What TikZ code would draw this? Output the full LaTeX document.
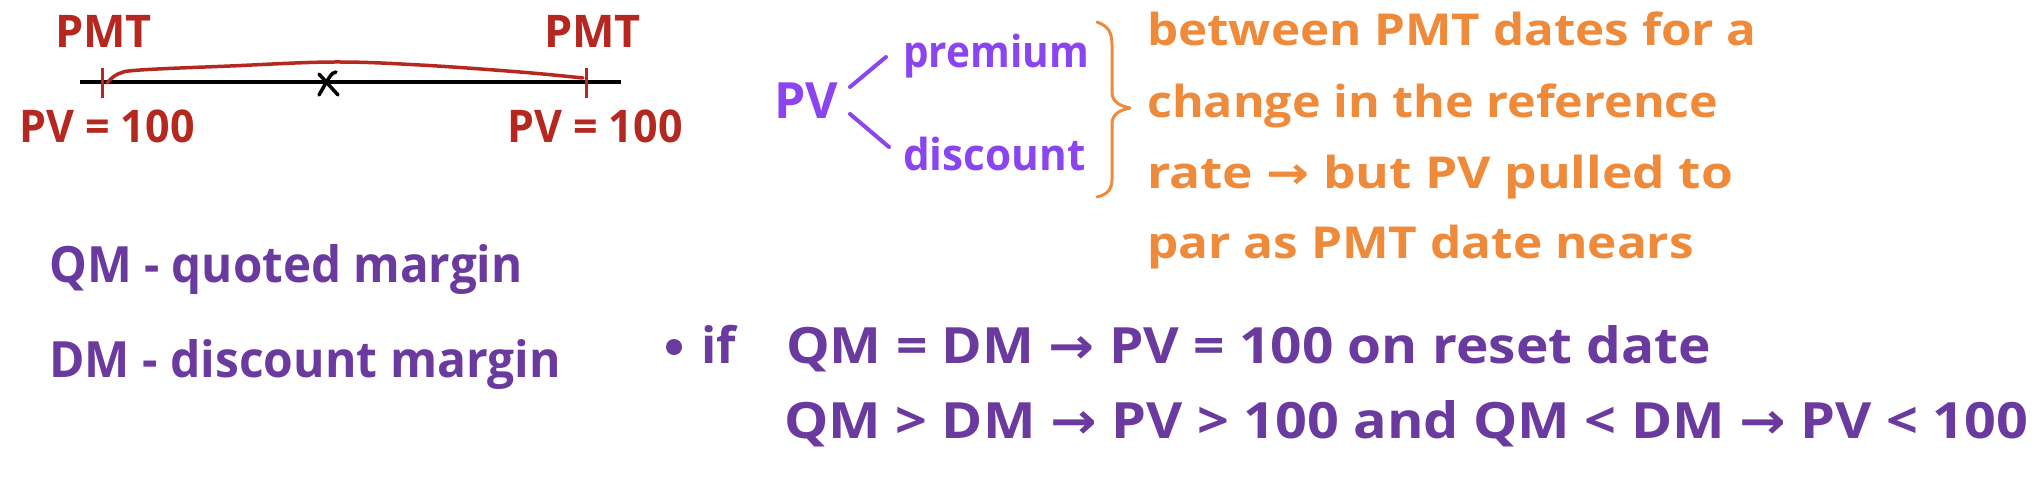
\documentclass[tikz,border=0pt]{standalone}
\usepackage{fontspec}
\usepackage{graphicx}
\newfontfamily\hand{Open Sans}
\newfontfamily\symf{DejaVu Sans}
\newcommand{\myarr}{{\symf\bfseries →}}
\newcommand{\sx}[2]{\scalebox{#1}[1]{#2}}
\definecolor{pmtred}{HTML}{B5281F}
\definecolor{violetc}{HTML}{8B45F0}
\definecolor{purplec}{HTML}{6B3A9E}
\definecolor{orangec}{HTML}{EE8A3A}
\tikzset{
  txt/.style={anchor=base west, inner sep=0pt, font=\hand\bfseries},
  redtxt/.style={txt, text=pmtred, font=\hand\bfseries\fontsize{45}{50}\selectfont},
  vtxt/.style={txt, text=violetc, font=\hand\bfseries\fontsize{44}{50}\selectfont},
  otxt/.style={txt, text=orangec, font=\hand\bfseries\fontsize{44}{50}\selectfont},
  ptxt/.style={txt, text=purplec, font=\hand\bfseries\fontsize{50}{55}\selectfont},
  stroke/.style={line width=#1, line cap=round, line join=round},
}
\begin{document}
\begin{tikzpicture}[x=1pt,y=-1pt]
\useasboundingbox (0,0) rectangle (2044,499);
\fill[white] (0,0) rectangle (2044,499);

% timeline
\coordinate (l0) at (80,82);
\coordinate (l1) at (621,82);
\draw[stroke=4pt, line cap=butt, black] (l0) -- (l1);
\coordinate (t0a) at (102,68); \coordinate (t0b) at (102,98);
\coordinate (t1a) at (586,68); \coordinate (t1b) at (586,98);
\draw[stroke=3pt, line cap=butt, pmtred] (t0a) -- (t0b);
\draw[stroke=3pt, line cap=butt, pmtred] (t1a) -- (t1b);
\draw[stroke=3.5pt, pmtred] plot[smooth, tension=0.6] coordinates
  {(107,83) (118,74) (140,70) (230,66) (333,62) (420,65) (520,72) (583,78)};
% x mark
\draw[stroke=3.5pt, black] (319,74) -- (338,95);
\draw[stroke=3.5pt, black] (336,72) .. controls (331,73) and (330,76) .. (319,95);

\node[redtxt] (pmt1) at (55,47) {PMT};
\node[redtxt] (pmt2) at (544,47) {PMT};
\node[redtxt] (pv1) at (19,142) {\sx{0.955}{PV = 100}};
\node[redtxt] (pv2) at (507,142) {\sx{0.955}{PV = 100}};

% PV premium / discount
\node[vtxt, font=\hand\bfseries\fontsize{50}{55}\selectfont] (pv) at (774,118) {PV};
\node[vtxt] (prem) at (903,67) {\sx{0.92}{premium}};
\node[vtxt] (disc) at (903,170) {\sx{0.96}{discount}};
\coordinate (s1a) at (850,87); \coordinate (s1b) at (886,57);
\coordinate (s2a) at (850,114); \coordinate (s2b) at (889,147);
\draw[stroke=4pt, violetc] (s1a) -- (s1b);
\draw[stroke=4pt, violetc] (s2a) -- (s2b);

% brace
\draw[stroke=3pt, orangec] (1097,22) .. controls (1108,26) and (1112,32) .. (1112,45)
  -- (1112,92) .. controls (1112,102) and (1120,106) .. (1130,108)
  .. controls (1120,110) and (1112,114) .. (1112,124)
  -- (1112,180) .. controls (1112,190) and (1106,195) .. (1097,197);

\node[otxt] (o1) at (1147,45) {\sx{1.12}{between PMT dates for a}};
\node[otxt] (o2) at (1147,117) {\sx{1.10}{change in the reference}};
\node[otxt] (o3) at (1147,188) {\sx{1.17}{rate \myarr{} but PV pulled to}};
\node[otxt] (o4) at (1147,258) {\sx{1.125}{par as PMT date nears}};

% QM / DM
\node[ptxt] (qm) at (49,282) {\sx{0.95}{QM - quoted margin}};
\node[ptxt] (dm) at (49,377) {\sx{0.96}{DM - discount margin}};

% bullet lines
\fill[purplec] (674,347) circle (8);
\node[ptxt] (if) at (701,363) {if};
\node[ptxt] (b1) at (786,363) {\sx{1.10}{QM = DM \myarr{} PV = 100 on reset date}};
\node[ptxt] (b2) at (784,438) {\sx{1.115}{QM > DM \myarr{} PV > 100 and QM < DM \myarr{} PV < 100}};
\end{tikzpicture}
\end{document}
